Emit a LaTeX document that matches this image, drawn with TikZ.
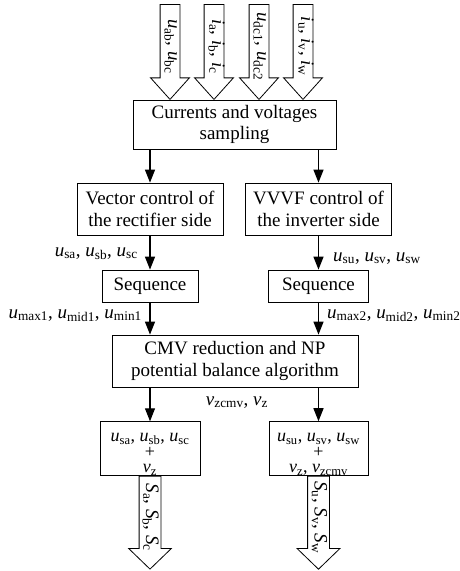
\documentclass[tikz,border=0pt]{standalone}
\usepackage{fontspec}
\setmainfont{Liberation Serif}
\usetikzlibrary{arrows.meta,shapes.arrows,positioning}
\tikzstyle{block} = [draw, rectangle, line width=0.8pt, align=center, inner sep=0pt]
\tikzstyle{sumbox} = [block, minimum height=53pt, font=\fontsize{18}{15.5}\selectfont]
\tikzstyle{flow} = [-{Triangle[width=10pt,length=13pt]}, line width=1.2pt]
\tikzstyle{fat} = [draw, single arrow, line width=0.8pt, rotate=-90,
    single arrow head indent=0pt, inner ysep=0pt, inner xsep=2pt]
\tikzstyle{fatin} = [fat, anchor=tip, single arrow head extend=9.5pt,
    single arrow tip angle=84, minimum height=95pt, text height=11.5pt, text depth=7.5pt]
\tikzstyle{fatout} = [fat, anchor=tail, single arrow head extend=10.5pt,
    single arrow tip angle=92, minimum height=93pt, text height=14.5pt, text depth=6.5pt]
\tikzstyle{lbl} = [inner sep=0pt]
\newcommand{\sv}[2]{\textit{#1}\textsubscript{#2}}

\begin{document}
\begin{tikzpicture}[x=1pt, y=-1pt, font=\fontsize{19}{21.5}\selectfont]
  \useasboundingbox (0,0) rectangle (459,571);
  % Place nodes
  \node [block, minimum width=203pt, minimum height=49pt] (samp) at (234.5,124.5)
  {Currents and voltages\\sampling};
  \node [block, minimum width=146pt, minimum height=52pt] (vec) at (150,209)
  {Vector control of\\the rectifier side};
  \node [block, minimum width=146pt, minimum height=52pt] (vvvf) at (318.5,209)
  {VVVF control of\\the inverter side};
  \node [block, minimum width=96pt, minimum height=32pt] (seql) at (150,286) {Sequence};
  \node [block, minimum width=100pt, minimum height=32pt] (seqr) at (318.5,286) {Sequence};
  \node [block, minimum width=246pt, minimum height=52pt] (cmv) at (235,361)
  {CMV reduction and NP\\potential balance algorithm};
  \node [sumbox, minimum width=100pt] (outl) at (150,448.5)
  {\rule{0pt}{20pt}\sv{u}{sa}, \sv{u}{sb}, \sv{u}{sc}\\+\\\sv{v}{z}};
  \node [sumbox, minimum width=99pt] (outr) at (318.5,448.5)
  {\rule{0pt}{20pt}\sv{u}{su}, \sv{u}{sv}, \sv{u}{sw}\\+\\\sv{v}{z}, \sv{v}{zcmv}};
  % Input and output arrows
  \node [fatin] (inuab) at (170,100) {\sv{u}{ab}, \sv{u}{bc}};
  \node [fatin] (iniabc) at (214,100) {\sv{i}{a}, \sv{i}{b}, \sv{i}{c}};
  \node [fatin] (inudc) at (259,100) {\sv{u}{dc1}, \sv{u}{dc2}};
  \node [fatin] (iniuvw) at (303,100) {\sv{i}{u}, \sv{i}{v}, \sv{i}{w}};
  \node [fatout] (sabc) at (outl.south) {\sv{S}{a}, \sv{S}{b}, \sv{S}{c}};
  \node [fatout] (suvw) at (outr.south) {\sv{S}{u}, \sv{S}{v}, \sv{S}{w}};
  % Signal labels
  \node [lbl, anchor=base east] (lusa) at (138,256) {\sv{u}{sa}, \sv{u}{sb}, \sv{u}{sc}};
  \node [lbl, anchor=base west] (lusu) at (333,261) {\sv{u}{su}, \sv{u}{sv}, \sv{u}{sw}};
  \node [lbl, anchor=base east] (lmaxl) at (142,318) {\sv{u}{max1}, \sv{u}{mid1}, \sv{u}{min1}};
  \node [lbl, anchor=base west] (lmaxr) at (327,318) {\sv{u}{max2}, \sv{u}{mid2}, \sv{u}{min2}};
  \node [lbl, anchor=base] (lvz) at (237,405) {\sv{v}{zcmv}, \sv{v}{z}};
  % Connect nodes
  \draw [flow] (samp.south -| vec) -- (vec);
  \draw [flow] (samp.south -| vvvf) -- (vvvf);
  \draw [flow] (vec) -- (seql);
  \draw [flow] (vvvf) -- (seqr);
  \draw [flow] (seql) -- (cmv.north -| seql);
  \draw [flow] (seqr) -- (cmv.north -| seqr);
  \draw [flow] (cmv.south -| outl) -- (outl);
  \draw [flow] (cmv.south -| outr) -- (outr);
\end{tikzpicture}
\end{document}
